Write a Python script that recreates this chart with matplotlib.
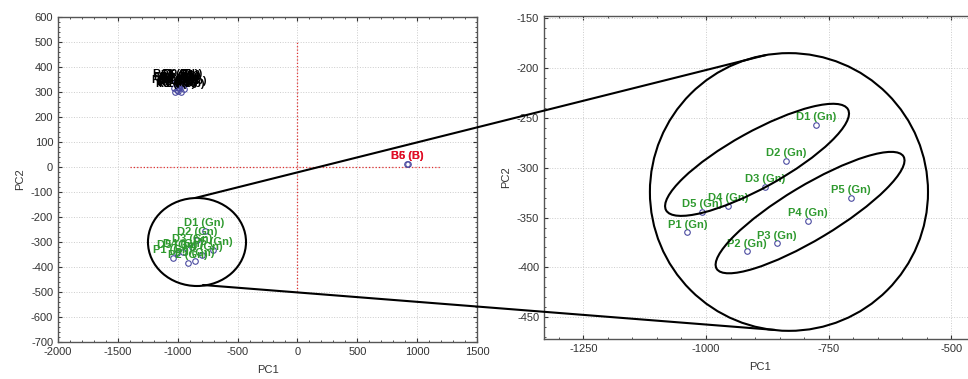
import matplotlib
matplotlib.use("Agg")
import matplotlib.pyplot as plt
from matplotlib.patches import Ellipse, ConnectionPatch
from matplotlib.ticker import AutoMinorLocator
from matplotlib.transforms import ScaledTranslation

plt.rcParams['font.family'] = ['Liberation Sans', 'DejaVu Sans']
plt.rcParams['axes.unicode_minus'] = False

# ---------------- data ----------------
labels_gn = ['D1 (Gn)', 'D2 (Gn)', 'D3 (Gn)', 'D4 (Gn)', 'D5 (Gn)',
             'P1 (Gn)', 'P2 (Gn)', 'P3 (Gn)', 'P4 (Gn)', 'P5 (Gn)']
pc1_gn = [-776, -837, -880, -955, -1008, -1038, -916, -856, -793, -705]
pc2_gn = [-257, -293, -319, -338, -344, -365, -384, -376, -353, -330]

labels_k = ['R1 (Rb)', 'R2 (Rb)', 'R3 (Rb)', 'R4 (Rb)', 'R5 (Rb)',
            'R6 (Rb)', 'R7 (Rb)', 'R8 (Rb)', 'R9 (Rb)', 'R10 (Rb)',
            'R11 (Rb)', 'R12 (Rb)', 'R13 (Rb)', 'R14 (Rb)']
pc1_k = [-1020, -1005, -995, -985, -975, -965, -1000, -990, -960, -1010,
         -1030, -950, -1015, -970]
pc2_k = [300, 310, 320, 330, 335, 325, 305, 315, 340, 330,
         318, 312, 342, 300]

labels_b = ['B5 (B)', 'B6 (B)']
pc1_b = [915, 921]
pc2_b = [14, 11]

left_xticks = [-2000, -1500, -1000, -500, 0, 500, 1000, 1500]
left_yticks = list(range(-700, 601, 100))
right_xticks = [-1250, -1000, -750, -500]
right_yticks = [-450, -400, -350, -300, -250, -200, -150]

# reference axes drawn through the origin (extent in data units)
ref_h = (-1400, 1200)
ref_v = (-500, 500)

GREEN = '#2f9a2f'
RED = '#e01028'
MEC = '#4a4aa0'
W, H = 968, 379

fig = plt.figure(figsize=(W / 100, H / 100), dpi=100)
ax1 = fig.add_axes([58 / W, (H - 342) / H, 419 / W, 325 / H])
ax2 = fig.add_axes([544 / W, (H - 339) / H, 431 / W, 323.5 / H])


def style(ax):
    ax.tick_params(direction='in', which='both', top=True, right=True,
                   labelsize=8, colors='#333333', length=3, width=0.8)
    ax.tick_params(which='minor', length=1.5, width=0.6)
    ax.xaxis.set_minor_locator(AutoMinorLocator(5))
    ax.yaxis.set_minor_locator(AutoMinorLocator(5))
    ax.grid(True, which='major', ls=':', color='#cccccc', lw=0.7)
    for s in ax.spines.values():
        s.set_color('#555555')
        s.set_linewidth(1.0)
    ax.set_xlabel('PC1', fontsize=8, color='#333333', labelpad=6)
    ax.set_ylabel('PC2', fontsize=8, color='#333333', labelpad=4)


def annotate(ax, xs, ys, labels, color):
    ax.plot(xs, ys, 'o', ms=4, mfc='none', mec=MEC, mew=0.8, zorder=3)
    for x, y, t in zip(xs, ys, labels):
        ax.annotate(t, (x, y), xytext=(0, 3.5), textcoords='offset points',
                    ha='center', va='baseline', fontsize=8,
                    fontweight='bold', color=color, zorder=4)


# ---------------- left panel ----------------
ax1.set_xlim(-2000, 1500)
ax1.set_ylim(-700, 600)
ax1.set_xticks(left_xticks)
ax1.set_yticks(left_yticks)
style(ax1)
ax1.plot(ref_h, [0, 0], ls=':', color='#e03030', lw=0.9, zorder=2)
ax1.plot([0, 0], ref_v, ls=':', color='#e03030', lw=0.9, zorder=2)
annotate(ax1, pc1_k, pc2_k, labels_k, 'black')
annotate(ax1, pc1_gn, pc2_gn, labels_gn, GREEN)
annotate(ax1, pc1_b, pc2_b, labels_b, RED)

ax1.add_patch(Ellipse((-839, -300), 819, 352, fill=False, ec='black',
                      lw=1.5, zorder=5, clip_on=False))

# ---------------- right panel ----------------
ax2.set_xlim(-1330, -452)
ax2.set_ylim(-472, -147)
ax2.set_xticks(right_xticks)
ax2.set_yticks(right_yticks)
style(ax2)
annotate(ax2, pc1_gn, pc2_gn, labels_gn, GREEN)

ax2.add_patch(Ellipse((-831, -324.3), 566.5, 279, fill=False, ec='black',
                      lw=1.5, zorder=5, clip_on=False))


def pix_ellipse(ax, cx, cy, a_px, b_px, ang):
    tr = fig.dpi_scale_trans + ScaledTranslation(cx, cy, ax.transData)
    e = Ellipse((0, 0), 2 * a_px / 100, 2 * b_px / 100, angle=ang,
                fill=False, ec='black', lw=1.5, transform=tr, zorder=5)
    ax.add_patch(e)


pix_ellipse(ax2, -896, -292, 104, 28, 29)
pix_ellipse(ax2, -788, -345, 109, 27, 31)

# ---------------- connectors ----------------
for pa, pb in [((-855, -124), (-877.7, -186.7)),
               ((-789, -472), (-859.4, -462.9))]:
    con = ConnectionPatch(xyA=pa, xyB=pb, coordsA='data', coordsB='data',
                          axesA=ax1, axesB=ax2, color='black', lw=1.5,
                          zorder=6)
    fig.add_artist(con)

fig.savefig('out.png', dpi=100)
